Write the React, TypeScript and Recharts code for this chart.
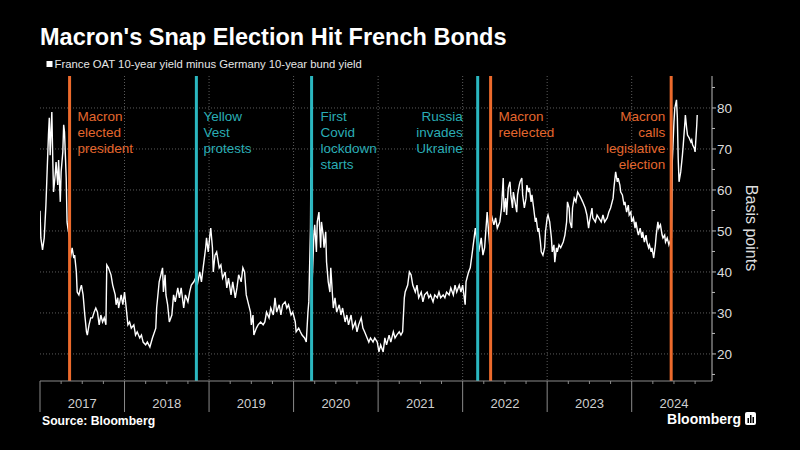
import React from 'react';
import { LineChart, Line, XAxis, YAxis, CartesianGrid, ReferenceLine } from 'recharts';

// Observation dates (fractional years) and France-Germany 10y spread (bp)
const obsDates = [
  2017.00, 2017.01, 2017.03, 2017.05, 2017.07, 2017.08, 2017.10, 2017.11, 2017.12, 2017.14,
  2017.15, 2017.16, 2017.18, 2017.19, 2017.21, 2017.22, 2017.24, 2017.25, 2017.27, 2017.28,
  2017.29, 2017.31, 2017.32, 2017.33, 2017.35, 2017.36, 2017.38, 2017.40, 2017.41, 2017.43,
  2017.44, 2017.46, 2017.48, 2017.49, 2017.51, 2017.53, 2017.55, 2017.56, 2017.58, 2017.60,
  2017.62, 2017.64, 2017.66, 2017.68, 2017.70, 2017.72, 2017.74, 2017.76, 2017.78, 2017.79,
  2017.81, 2017.84, 2017.86, 2017.89, 2017.90, 2017.92, 2017.93, 2017.96, 2017.98,
  2018.00, 2018.02, 2018.04, 2018.06, 2018.08, 2018.11, 2018.13, 2018.15, 2018.18, 2018.20,
  2018.22, 2018.25, 2018.27, 2018.30, 2018.33, 2018.37, 2018.38, 2018.41, 2018.43, 2018.45,
  2018.46, 2018.48, 2018.49, 2018.51, 2018.53, 2018.56, 2018.58, 2018.60, 2018.63, 2018.65,
  2018.67, 2018.70, 2018.72, 2018.75, 2018.77, 2018.79, 2018.82, 2018.84, 2018.86, 2018.89,
  2018.91, 2018.93, 2018.96, 2018.97, 2018.99,
  2019.01, 2019.02, 2019.04, 2019.05, 2019.07, 2019.09, 2019.12, 2019.14, 2019.16, 2019.19,
  2019.21, 2019.23, 2019.26, 2019.28, 2019.31, 2019.33, 2019.35, 2019.38, 2019.40, 2019.42,
  2019.44, 2019.46, 2019.49, 2019.50, 2019.52, 2019.53, 2019.56, 2019.58, 2019.61, 2019.64,
  2019.66, 2019.68, 2019.71, 2019.73, 2019.76, 2019.78, 2019.80, 2019.83, 2019.85, 2019.87,
  2019.90, 2019.92, 2019.94, 2019.97, 2019.99,
  2020.02, 2020.03, 2020.06, 2020.08, 2020.10, 2020.13, 2020.15, 2020.17, 2020.18, 2020.20,
  2020.205, 2020.22, 2020.24, 2020.25, 2020.27, 2020.28, 2020.30, 2020.32, 2020.33, 2020.35,
  2020.36, 2020.38, 2020.39, 2020.41, 2020.43, 2020.44, 2020.46, 2020.47, 2020.49, 2020.51,
  2020.54, 2020.56, 2020.58, 2020.61, 2020.63, 2020.65, 2020.68, 2020.70, 2020.73, 2020.75,
  2020.77, 2020.80, 2020.82, 2020.84, 2020.87, 2020.89, 2020.91, 2020.94, 2020.96, 2020.99,
  2021.01, 2021.03, 2021.06, 2021.08, 2021.10, 2021.13, 2021.15, 2021.18, 2021.20, 2021.22,
  2021.25, 2021.27, 2021.29, 2021.31, 2021.32, 2021.35, 2021.37, 2021.39, 2021.41, 2021.44,
  2021.46, 2021.48, 2021.51, 2021.53, 2021.55, 2021.58, 2021.60, 2021.62, 2021.65, 2021.67,
  2021.70, 2021.72, 2021.74, 2021.77, 2021.79, 2021.81, 2021.84, 2021.86, 2021.89, 2021.91,
  2021.93, 2021.96, 2021.98,
  2022.00, 2022.03, 2022.04, 2022.07, 2022.09, 2022.11, 2022.14, 2022.15, 2022.17, 2022.19,
  2022.22, 2022.24, 2022.26, 2022.29, 2022.31, 2022.33, 2022.34, 2022.37, 2022.39, 2022.41,
  2022.44, 2022.46, 2022.48, 2022.49, 2022.51, 2022.52, 2022.54, 2022.56, 2022.57, 2022.59,
  2022.60, 2022.62, 2022.64, 2022.65, 2022.67, 2022.68, 2022.70, 2022.71, 2022.73, 2022.75,
  2022.76, 2022.78, 2022.79, 2022.81, 2022.82, 2022.84, 2022.86, 2022.87, 2022.89, 2022.90,
  2022.92, 2022.93, 2022.95, 2022.97, 2022.98,
  2023.00, 2023.01, 2023.03, 2023.05, 2023.06, 2023.08, 2023.09, 2023.11, 2023.12, 2023.14,
  2023.16, 2023.19, 2023.21, 2023.23, 2023.24, 2023.26, 2023.27, 2023.29, 2023.30, 2023.32,
  2023.34, 2023.36, 2023.38, 2023.40, 2023.42, 2023.45, 2023.47, 2023.49, 2023.50, 2023.53,
  2023.54, 2023.57, 2023.59, 2023.61, 2023.64, 2023.66, 2023.68, 2023.71, 2023.73, 2023.75,
  2023.78, 2023.79, 2023.81, 2023.83, 2023.84, 2023.86, 2023.87, 2023.89, 2023.91, 2023.92,
  2023.94, 2023.96, 2023.97, 2023.99,
  2024.00, 2024.02, 2024.04, 2024.05, 2024.07, 2024.08, 2024.10, 2024.12, 2024.13, 2024.15,
  2024.17, 2024.18, 2024.20, 2024.21, 2024.23, 2024.24, 2024.26, 2024.28, 2024.29, 2024.31,
  2024.32, 2024.34, 2024.36, 2024.37, 2024.39, 2024.40, 2024.42, 2024.44, 2024.45, 2024.47,
  2024.48, 2024.50, 2024.51, 2024.53, 2024.54, 2024.55, 2024.56, 2024.58, 2024.60, 2024.61,
  2024.63, 2024.635, 2024.65, 2024.66, 2024.68, 2024.70, 2024.71, 2024.72, 2024.74, 2024.75,
  2024.77, 2024.775,
];

const spreadBps = [
  54.9, 48.3, 45.4, 48.3, 56.3, 62, 73.4, 77.6, 68.5, 79,
  68.5, 59.5, 63.7, 66.8, 61.2, 67.3, 57.1, 64.4, 69.3, 75.9,
  74.1, 62.9, 52.2, 50.7, 48.3, 43.4, 45.9, 43.4, 44.1, 40,
  35.1, 34.4, 36.1, 36.8, 34.4, 29.5, 25.4, 24.6, 27.1, 28.8,
  28.8, 30.2, 31.2, 30.2, 27.1, 29.5, 27.8, 28.8, 27.1, 41.7,
  41, 39.3, 36.8, 34.4, 32, 33.7, 31.2, 34.4, 32,
  35.1, 31.2, 27.1, 27.8, 26.3, 27.1, 24.6, 25.4, 23.9, 24.6,
  22.9, 22.2, 22.9, 21.7, 23.9, 26.3, 31.2, 37.6, 39.3, 41,
  35.1, 39.3, 34.4, 32, 27.8, 29.5, 34.4, 32.7, 36.1, 33.7,
  36.1, 31.2, 34.4, 32.7, 35.1, 36.8, 37.6, 38.5, 36.8, 40,
  37.6, 41, 45.9, 48.3, 44.9,
  49, 50.7, 45.9, 40, 44.1, 44.9, 41, 41.7, 38.5, 40,
  36.1, 38.5, 34.4, 37.6, 33.7, 36.1, 39.3, 37.6, 41, 40,
  34.4, 32.7, 30.2, 27.1, 29.5, 24.6, 26.3, 27.1, 27.8, 27.1,
  27.8, 30.2, 28.8, 31.2, 29.5, 33.7, 30.2, 32, 29.5, 32,
  32.7, 31.2, 32, 29.5, 30.2,
  27.8, 25.4, 26.3, 25.4, 24.6, 23.9, 22.9, 30.2, 32.7, 50.7,
  65.5, 37.6, 49, 51.5, 44.9, 52.2, 54.6, 45.9, 52.2, 49,
  45.9, 49.8, 42.4, 37.6, 35.1, 41, 34.4, 31.2, 33.7, 30.2,
  32, 29.5, 31.2, 27.8, 29.5, 27.1, 29.5, 26.3, 27.8, 25.4,
  27.1, 28.8, 26.3, 25.4, 23.9, 22.9, 23.9, 22.9, 23.9, 22.9,
  20.5, 22.2, 20.5, 23.9, 22.2, 24.6, 22.9, 25.4, 23.9, 24.6,
  25.4, 24.6, 25.4, 33.7, 35.1, 36.8, 40, 39.3, 36.8, 35.1,
  36.8, 33.7, 35.1, 32.7, 34.4, 35.1, 33.7, 34.4, 32.7, 34.4,
  33.7, 35.1, 33.7, 34.4, 33.7, 35.1, 34.4, 36.1, 34.4, 36.8,
  35.1, 36.8, 35.1,
  36.8, 32, 37.6, 40, 41, 44.1, 49, 50.7, 47.3, 44.9,
  48.3, 44.1, 45.9, 54.6, 49, 44.1, 53.9, 51.5, 53.2, 50.7,
  52.2, 55.6, 62.9, 54.6, 58, 53.9, 60.5, 62, 58.8, 55.6,
  59.5, 57.1, 54.6, 58.8, 61.2, 62, 62.9, 58.8, 55.6, 58,
  61.2, 59.5, 60.5, 57.1, 58.8, 55.6, 52.2, 53.2, 49.8, 50.7,
  47.3, 44.9, 44.1, 45.9, 49.8,
  53.2, 53.9, 52.2, 48.3, 44.9, 46.6, 42.4, 45.9, 44.9, 46.6,
  45.9, 47.3, 49, 52.2, 57.1, 55.6, 52.2, 50.7, 55.6, 58,
  57.1, 59.5, 58.8, 58, 57.1, 55.6, 53.9, 50.7, 52.2, 55.6,
  53.2, 52.2, 53.9, 53.2, 52.2, 53.9, 52.2, 53.2, 54.6, 55.6,
  58, 60.5, 64.4, 62, 62.9, 61.2, 59.5, 58.8, 56.3, 57.1,
  54.6, 56.3, 53.9, 54.6,
  52.2, 53.2, 50.7, 52.2, 49.8, 49, 50.7, 48.3, 49.8, 47.3,
  49, 47.3, 45.9, 46.6, 44.9, 45.9, 43.4, 46.6, 49, 52.2,
  50.7, 51.5, 49, 48.3, 49, 47.3, 48.3, 46.6, 47.3, 48.3,
  66.8, 76.6, 80, 82, 77.6, 67.8, 62, 64.4, 68.5, 71,
  76.6, 78.3, 75.1, 73.4, 72.7, 71.7, 72.2, 71, 70.2, 69.3,
  75.9, 78.3,
];

const yearLabels = [2017, 2018, 2019, 2020, 2021, 2022, 2023, 2024];
const yTickValues = [15, 20, 25, 30, 35, 40, 45, 50, 55, 60, 65, 70, 75, 80, 85];
const yGridValues = [20, 30, 40, 50, 60, 70, 80];

const eventDates = [2017.35, 2018.85, 2020.213, 2022.178, 2022.331, 2024.467];
const eventText = [
  ['Macron', 'elected', 'president'],
  ['Yellow', 'Vest', 'protests'],
  ['First', 'Covid', 'lockdown', 'starts'],
  ['Russia', 'invades', 'Ukraine'],
  ['Macron', 'reelected'],
  ['Macron', 'calls', 'legislative', 'election'],
];
const eventKind = ['politics', 'shock', 'shock', 'shock', 'politics', 'politics'];

// layout / style (kept separate from data)
const labelSide = ['right', 'right', 'right', 'left', 'right', 'left'];
const labelGap = [8, 7, 9, 15, 8, 6];
const kindLine: Record<string, string> = { politics: '#ec6a2c', shock: '#2bb7c0' };
const kindText: Record<string, string> = { politics: '#e4672e', shock: '#2aadb5' };

const FONT = '"Liberation Sans", Arial, sans-serif';

const data = obsDates.map((t, i) => ({ t, v: spreadBps[i] }));
const xTicks = yearLabels.flatMap((y) => [y, y + 0.25, y + 0.5, y + 0.75]);

const XTick = (props: any) => {
  const { x, y, payload } = props;
  const v = payload.value as number;
  const frac = v - Math.floor(v);
  const isYear = Math.abs(frac) < 1e-6;
  const isMid = Math.abs(frac - 0.5) < 1e-6;
  return (
    <g>
      <line x1={x} x2={x} y1={y} y2={y + (isYear ? 31 : 3)} stroke="#8a8a8a" strokeWidth={1} />
      {isMid && (
        <text x={x} y={y + 27} fill="#cfcfcf" fontSize={13} fontFamily={FONT} textAnchor="middle">
          {Math.floor(v)}
        </text>
      )}
    </g>
  );
};

const YTick = (props: any) => {
  const { x, y, payload } = props;
  const v = payload.value as number;
  const major = v % 10 === 0;
  return (
    <g>
      <line x1={x} x2={x + (major ? 4 : 3)} y1={y} y2={y} stroke="#bbbbbb" strokeWidth={1} />
      {major && (
        <text x={x + 5} y={y + 5} fill="#dddddd" fontSize={13.5} fontFamily={FONT} textAnchor="start">
          {v}
        </text>
      )}
    </g>
  );
};

const makeLabel = (i: number) => (props: any) => {
  const vb = props.viewBox || {};
  const lx = vb.x ?? 0;
  const top = vb.y ?? 0;
  const left = labelSide[i] === 'left';
  const tx = left ? lx - labelGap[i] : lx + labelGap[i];
  return (
    <text
      x={tx}
      y={top + 45}
      fill={kindText[eventKind[i]]}
      fontSize={13.5}
      fontFamily={FONT}
      textAnchor={left ? 'end' : 'start'}
    >
      {eventText[i].map((line, j) => (
        <tspan key={j} x={tx} dy={j === 0 ? 0 : 16}>
          {line}
        </tspan>
      ))}
    </text>
  );
};

export default function App() {
  return (
    <div style={{ position: 'absolute', left: 0, top: 0, width: 800, height: 450, background: '#000', overflow: 'hidden' }}>
      <LineChart
        width={800}
        height={450}
        data={data}
        margin={{ top: 76, right: 28, bottom: 39, left: 40 }}
      >
        <CartesianGrid
          stroke="#5c5c5c"
          strokeDasharray="1 2"
          horizontalValues={yGridValues}
          verticalValues={yearLabels.slice(1)}
        />
        <XAxis
          dataKey="t"
          type="number"
          domain={[2017, 2024.95]}
          ticks={xTicks}
          interval={0}
          tick={<XTick />}
          tickLine={false}
          tickSize={0}
          tickMargin={0}
          height={30}
          axisLine={{ stroke: '#8a8a8a' }}
          allowDataOverflow
        />
        <YAxis
          orientation="right"
          type="number"
          domain={[13.4, 87.8]}
          ticks={yTickValues}
          interval={0}
          tick={<YTick />}
          tickLine={false}
          tickSize={0}
          tickMargin={0}
          width={60}
          axisLine={{ stroke: '#bbbbbb' }}
          allowDataOverflow
        />
        <Line
          type="linear"
          dataKey="v"
          stroke="#ffffff"
          strokeWidth={1.4}
          dot={false}
          isAnimationActive={false}
        />
        {eventDates.map((d, i) => (
          <ReferenceLine
            key={i}
            x={d}
            stroke={kindLine[eventKind[i]]}
            strokeWidth={3}
            label={makeLabel(i)}
          />
        ))}
      </LineChart>
      <svg width={800} height={450} style={{ position: 'absolute', left: 0, top: 0, pointerEvents: 'none' }}>
        <text x={40} y={45} fill="#ffffff" fontSize={23.5} fontWeight="bold" fontFamily={FONT}>
          Macron's Snap Election Hit French Bonds
        </text>
        <rect x={46.5} y={61} width={6} height={6} fill="#ffffff" />
        <text x={54.5} y={68} fill="#e6e6e6" fontSize={11.3} fontFamily={FONT}>
          France OAT 10-year yield minus Germany 10-year bund yield
        </text>
        <text x={746} y={228} fill="#dddddd" fontSize={16} fontFamily={FONT} textAnchor="middle" transform="rotate(90 746 228)">
          Basis points
        </text>
        <text x={42} y={425} fill="#ffffff" fontSize={12.2} fontWeight="bold" fontFamily={FONT}>
          Source: Bloomberg
        </text>
        <text x={741} y={424} fill="#ffffff" fontSize={14} fontWeight="bold" fontFamily={FONT} textAnchor="end">
          Bloomberg
        </text>
        <rect x={745} y={412} width={11} height={13} rx={2} fill="#ffffff" />
        <rect x={747.5} y={418} width={1.5} height={5} fill="#000" />
        <rect x={750} y={415} width={1.5} height={8} fill="#000" />
        <rect x={752.5} y={417} width={1.5} height={6} fill="#000" />
      </svg>
    </div>
  );
}
